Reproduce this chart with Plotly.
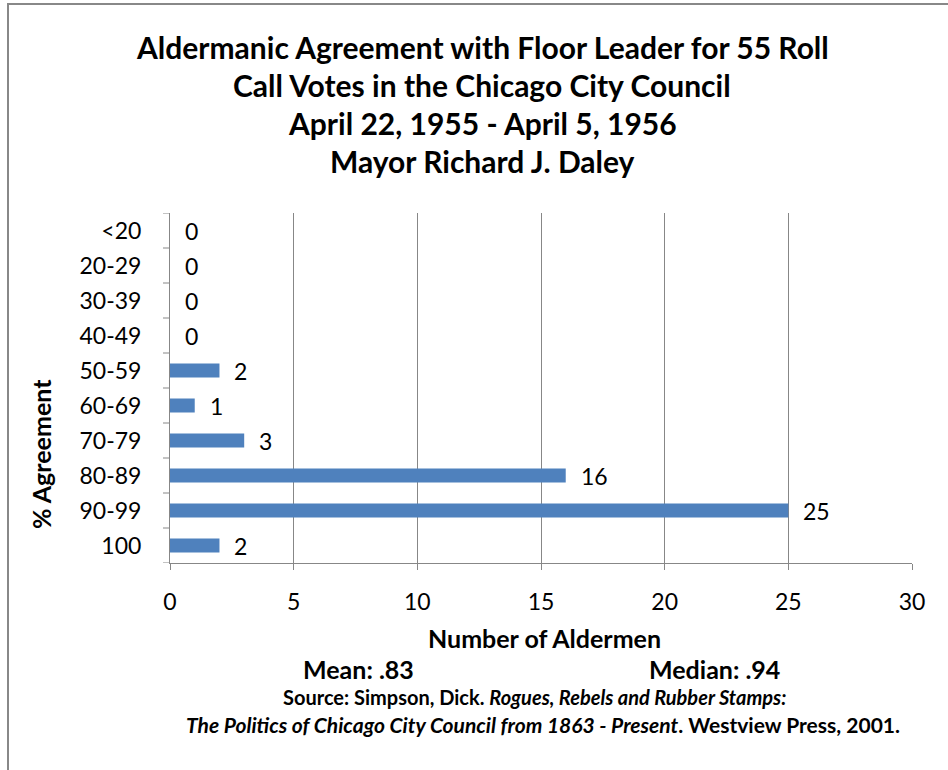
import plotly.graph_objects as go

categories = ["<20", "20-29", "30-39", "40-49", "50-59", "60-69", "70-79", "80-89", "90-99", "100"]
counts = [0, 0, 0, 0, 2, 1, 3, 16, 25, 2]
x_ticks = [0, 5, 10, 15, 20, 25, 30]

title_lines = [
    "Aldermanic Agreement with Floor Leader for 55 Roll",
    "Call Votes in the Chicago City Council",
    "April 22, 1955 - April 5, 1956",
    "Mayor Richard J. Daley",
]
x_title = "Number of Aldermen"
y_title = "% Agreement"
mean_text = "Mean: .83"
median_text = "Median: .94"
source_1 = "Source: Simpson, Dick. <i>Rogues, Rebels and Rubber Stamps:</i>"
source_2 = "<i>The Politics of Chicago City Council from 1863 - Present</i>. Westview Press, 2001."

FONT = "Lato"
BAR = "#4F81BD"
GRID = "#878787"

W, H = 948, 770
L, R, T, B = 170, 36, 213, 207
PW, PH = W - L - R, H - T - B

def px(xp):
    return (xp - L) / PW

def py(yp):
    return (H - B - yp) / PH

def esc(s):
    return s.replace("&", "&amp;").replace("<", "&lt;").replace(">", "&gt;")

idx = list(range(len(categories)))

fig = go.Figure()
fig.add_trace(go.Bar(
    x=counts, y=idx, orientation="h",
    marker=dict(color=BAR, line=dict(width=0)),
    hoverinfo="skip",
))

annotations = []
for i, v in zip(idx, counts):
    annotations.append(dict(
        x=v, y=i, xref="x", yref="y", text=str(v), showarrow=False,
        xanchor="left", yanchor="middle", xshift=13,
        font=dict(family=FONT, size=23, color="black"),
    ))

title_y = [47, 85, 123, 161]
for line, yp in zip(title_lines, title_y):
    annotations.append(dict(
        x=px(482), y=py(yp), xref="paper", yref="paper", text="<b>" + line + "</b>",
        showarrow=False, xanchor="center", yanchor="middle",
        font=dict(family=FONT, size=30, color="black"),
    ))

annotations += [
    dict(x=px(544), y=py(638), xref="paper", yref="paper", text="<b>" + x_title + "</b>",
         showarrow=False, xanchor="center", yanchor="middle",
         font=dict(family=FONT, size=25, color="black")),
    dict(x=px(41), y=py(454), xref="paper", yref="paper", text="<b>" + y_title + "</b>",
         showarrow=False, xanchor="center", yanchor="middle", textangle=-90,
         font=dict(family=FONT, size=25, color="black")),
    dict(x=px(358), y=py(669), xref="paper", yref="paper", text="<b>" + mean_text + "</b>",
         showarrow=False, xanchor="center", yanchor="middle",
         font=dict(family=FONT, size=25, color="black")),
    dict(x=px(714), y=py(669), xref="paper", yref="paper", text="<b>" + median_text + "</b>",
         showarrow=False, xanchor="center", yanchor="middle",
         font=dict(family=FONT, size=25, color="black")),
    dict(x=px(534), y=py(697), xref="paper", yref="paper", text="<b>" + source_1 + "</b>",
         showarrow=False, xanchor="center", yanchor="middle",
         font=dict(family=FONT, size=20, color="black")),
    dict(x=px(543), y=py(724), xref="paper", yref="paper", text="<b>" + source_2 + "</b>",
         showarrow=False, xanchor="center", yanchor="middle",
         font=dict(family=FONT, size=21, color="black")),
]

shapes = [
    dict(type="line", xref="paper", yref="paper", x0=px(7), x1=px(948), y0=py(4), y1=py(4),
         line=dict(color="#888888", width=2)),
    dict(type="line", xref="paper", yref="paper", x0=px(8), x1=px(8), y0=py(4), y1=py(770),
         line=dict(color="#888888", width=2)),
]
# category boundary tick marks on the y axis
for k in range(len(categories) + 1):
    shapes.append(dict(type="line", xref="paper", yref="y",
                       x0=px(L - 7), x1=0, y0=k - 0.5, y1=k - 0.5,
                       line=dict(color=GRID, width=1)))

fig.update_layout(
    width=W, height=H,
    margin=dict(l=L, r=R, t=T, b=B),
    paper_bgcolor="white", plot_bgcolor="white",
    showlegend=False,
    bargap=0.6,
    font=dict(family=FONT, size=23, color="black"),
    annotations=annotations,
    shapes=shapes,
)
fig.update_xaxes(
    range=[0, 30], tickvals=x_ticks, ticktext=[str(t) for t in x_ticks],
    showgrid=True, gridcolor=GRID, gridwidth=1,
    zeroline=False, showline=True, linecolor=GRID, linewidth=1,
    ticks="outside", ticklen=6, tickcolor=GRID,
    tickfont=dict(family=FONT, size=23, color="black"),
    ticklabelstandoff=12,
    fixedrange=True,
)
fig.update_yaxes(
    range=[len(categories) - 0.5, -0.5],
    tickmode="array", tickvals=idx, ticktext=[esc(c) for c in categories],
    showgrid=False, zeroline=False, showline=True, linecolor=GRID, linewidth=1,
    ticks="",
    tickfont=dict(family=FONT, size=23, color="black"),
    ticklabelstandoff=23,
    fixedrange=True,
)

fig.write_html("out.html")
